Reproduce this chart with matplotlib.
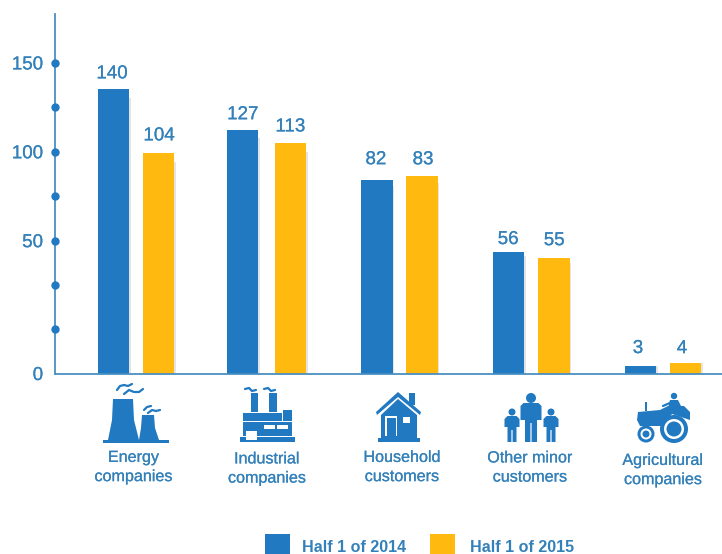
import matplotlib
matplotlib.use("Agg")
import matplotlib.pyplot as plt
import matplotlib.patheffects as pe
import numpy as np
from matplotlib.patches import Circle, Polygon, Rectangle

categories = ["Energy\ncompanies", "Industrial\ncompanies", "Household\ncustomers",
              "Other minor\ncustomers", "Agricultural\ncompanies"]
# printed values
labels_2014 = [140, 127, 82, 56, 3]
labels_2015 = [104, 113, 83, 55, 4]
# bar heights as drawn, read against the (uneven) axis
heights_2014 = [135.4, 112.4, 84.3, 45.9, 3.0]
heights_2015 = [99.4, 105.0, 86.5, 43.6, 4.1]
major_ticks = [0, 50, 100, 150]
dot_ticks = [16.7, 33.3, 50, 75, 100, 125, 150]
legend_names = ["Half 1 of 2014", "Half 1 of 2015"]

BLUE = "#2079c1"
ORANGE = "#ffb90f"
AXIS = "#4a8fc2"
TEXT = "#3481ba"

plt.rcParams["font.family"] = ["Liberation Sans", "DejaVu Sans"]
thick = [pe.withStroke(linewidth=0.15, foreground=TEXT)]

fig = plt.figure(figsize=(7.22, 5.54), dpi=100)
ax = fig.add_axes([55 / 722, 1 - 373.5 / 554, 667 / 722, 359.5 / 554])


# the axis is not linear: 0-50 takes more room than 50-150
def forward(v):
    return np.interp(v, [0, 50, 200], [0, 133, 400])


def inverse(p):
    return np.interp(p, [0, 133, 400], [0, 50, 200])


ax.set_yscale("function", functions=(forward, inverse))
ax.set_ylim(0, 177.5)
ax.set_xlim(-0.615, 4.448)

x = np.arange(len(categories), dtype=float)
w = 0.239
off = 0.171
x_blue = x - off
x_blue[1] -= 0.022  # second blue bar sits a little left in the original
x_orange = x + off

# soft shadow behind bars
ax.bar(x_blue + 0.012, np.array(heights_2014) * 0.96, w, color="#e4e4e4", zorder=1)
ax.bar(x_orange + 0.012, np.array(heights_2015) * 0.95, w, color="#e4e4e4", zorder=1)
ax.bar(x_blue, heights_2014, w, color=BLUE, zorder=2)
ax.bar(x_orange, heights_2015, w, color=ORANGE, zorder=2)

# label nudges in pixels, the original labels are hand placed
dx_blue = [-1.5, 0.5, -1, -0.5, -2.5]
dy_blue = [15, 15, 20, 12, 17]
dx_orange = [0.5, 0, 1, 0.5, -3.5]
dy_orange = [17, 16, 16, 17, 14]
for i in range(len(x)):
    ax.annotate(str(labels_2014[i]), (x_blue[i], heights_2014[i]),
                xytext=(dx_blue[i] * 0.72, dy_blue[i] * 0.72), textcoords="offset points",
                ha="center", va="center", fontsize=13.5, color=TEXT, path_effects=thick)
    ax.annotate(str(labels_2015[i]), (x_orange[i], heights_2015[i]),
                xytext=(dx_orange[i] * 0.72, dy_orange[i] * 0.72), textcoords="offset points",
                ha="center", va="center", fontsize=13.5, color=TEXT, path_effects=thick)

for s in ["top", "right"]:
    ax.spines[s].set_visible(False)
for s in ["left", "bottom"]:
    ax.spines[s].set_color(AXIS)
    ax.spines[s].set_linewidth(1.3)
ax.set_xticks([])
ax.set_yticks(major_ticks)
ax.tick_params(axis="y", length=0, pad=8.5, labelsize=13.5, labelcolor=TEXT)
for t in ax.get_yticklabels():
    t.set_path_effects(thick)
ax.minorticks_off()
ax.plot([-0.615] * len(dot_ticks), dot_ticks, "o", ms=5, color=BLUE, clip_on=False, zorder=5)

# overlay in pixel coords for icons, category text and legend
ov = fig.add_axes([0, 0, 1, 1])
ov.set_xlim(0, 722)
ov.set_ylim(554, 0)
ov.axis("off")


def box(x0, y0, x1, y1, c=BLUE):
    ov.add_patch(Rectangle((x0, y0), x1 - x0, y1 - y0, color=c, lw=0))


def poly(pts, c=BLUE):
    ov.add_patch(Polygon(pts, closed=True, color=c, lw=0))


def dot(cx, cy, r, c=BLUE):
    ov.add_patch(Circle((cx, cy), r, color=c, lw=0))


def smoke(pts):
    ov.plot([p[0] for p in pts], [p[1] for p in pts], color=BLUE, lw=1.6,
            solid_capstyle="round")


# power plant
box(103, 440, 169, 442.5)
poly([(113, 399), (133, 399), (134, 420), (139, 440), (108, 440), (112, 420)])
poly([(142, 415), (154, 415), (155, 428), (159, 440), (139, 440), (141, 428)])
smoke([(117, 390), (120, 386), (124, 385), (128, 386), (132, 384)])
smoke([(124, 394), (129, 390), (134, 392), (139, 392), (143, 389)])
smoke([(144, 410), (147, 407), (151, 406)])
smoke([(148, 413), (152, 410), (156, 411), (160, 410)])

# factory
box(250.5, 393, 258, 412)
box(269, 393, 277, 412)
box(242.5, 413, 281.5, 421)
box(282.5, 410, 291.5, 421)
box(242.5, 422, 291.5, 436)
box(240, 437, 294.5, 442)
box(246, 431, 257, 440, "white")
box(264, 425, 275, 429, "white")
box(277, 425, 288, 429, "white")
smoke([(245, 389), (249, 388), (252, 391), (256, 390)])
smoke([(264, 389), (268, 388), (271, 391), (275, 390)])

# house
box(409, 393, 415, 405)
poly([(398, 392), (421, 412), (420, 415), (398, 397), (377, 415), (376, 412)])
poly([(398, 399), (417, 415), (417, 438), (381, 438), (381, 415)])
box(378, 438, 420, 442)
box(385, 416, 397, 436, "white")
box(386.5, 417.5, 395.5, 436)
box(403, 417, 410, 423, "white")

# people
for cx, cy, r, hw, top, mid, leg in [(531, 398, 5, 10.5, 403, 420, 6),
                                     (512, 412, 3.5, 7.5, 416, 427, 4.5),
                                     (551, 412, 3.5, 7.5, 416, 427, 4.5)]:
    dot(cx, cy, r)
    poly([(cx - hw, top + 3), (cx - hw + 3, top), (cx + hw - 3, top), (cx + hw, top + 3),
          (cx + hw, mid), (cx + leg, mid), (cx + leg, 442), (cx + 0.6, 442), (cx + 0.6, mid + 3),
          (cx - 0.6, mid + 3), (cx - 0.6, 442), (cx - leg, 442), (cx - leg, mid), (cx - hw, mid)])

# tractor
dot(674, 396, 3.2)
poly([(670, 400), (678, 400), (682, 408), (668, 408)])
smoke([(663, 406), (672, 402)])
poly([(638, 412), (660, 410), (668, 406), (684, 406), (690, 412), (690, 420), (672, 414),
      (663, 426), (640, 426), (637, 420)])
box(645, 402, 647, 411)
dot(674, 429, 14)
dot(674, 429, 10, "white")
dot(674, 429, 7.5)
dot(646, 434, 8.5)
dot(646, 434, 5.5, "white")
dot(646, 434, 3.5)

# category text
text_pos = [(133.5, 467), (267, 468.5), (402, 467), (530, 467.5), (663, 470)]
for name, (tx, ty) in zip(categories, text_pos):
    ov.text(tx, ty, name, ha="center", va="center", fontsize=11.6, color=TEXT,
            linespacing=1.35, path_effects=thick)

# legend
box(265, 534, 290, 554, BLUE)
box(430, 534, 455, 554, ORANGE)
ov.text(302, 547, legend_names[0], ha="left", va="center", fontsize=11.6, fontweight="bold", color=TEXT)
ov.text(470, 547, legend_names[1], ha="left", va="center", fontsize=11.6, fontweight="bold", color=TEXT)

fig.savefig("out.png", dpi=100)
